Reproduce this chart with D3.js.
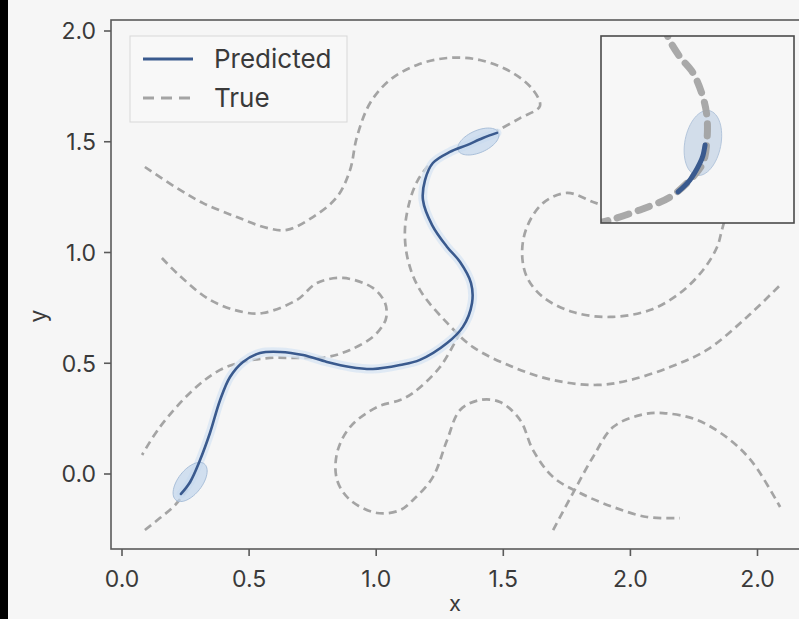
<!DOCTYPE html>
<html>
<head>
<meta charset="utf-8">
<script src="https://cdn.jsdelivr.net/npm/d3@7/dist/d3.min.js"></script>
<style>
  html, body { margin: 0; padding: 0; background: #f6f6f6; }
  svg { display: block; font-family: Inter, "Noto Sans", sans-serif; }
</style>
</head>
<body>
<svg id="chart" width="799" height="619"></svg>
<script>
// ---------- data ----------
const xTickValues = [0, 0.5, 1.0, 1.5, 2.0, 2.5];
const xTickLabels = ["0.0", "0.5", "1.0", "1.5", "2.0", "2.0"];
const yTickValues = [0, 0.5, 1.0, 1.5, 2.0];
const yTickLabels = ["0.0", "0.5", "1.0", "1.5", "2.0"];
const legendLabels = ["Predicted", "True"];

const predicted = [
  [0.232,-0.090],[0.268,-0.036],[0.307,0.063],[0.346,0.185],[0.386,0.334],
  [0.425,0.438],[0.476,0.506],[0.543,0.546],[0.622,0.551],[0.712,0.537],
  [0.806,0.506],[0.897,0.483],[0.987,0.474],[1.094,0.492],[1.172,0.515],
  [1.279,0.591],[1.341,0.664],[1.377,0.772],[1.373,0.862],[1.330,0.957],
  [1.279,1.025],[1.220,1.124],[1.184,1.237],[1.192,1.327],[1.223,1.404],
  [1.290,1.454],[1.357,1.485],[1.420,1.517],[1.475,1.540]
];

const trueA = [[0.090,-0.253],[0.149,-0.199],[0.209,-0.140],[0.268,-0.045],[0.275,-0.018]];
const trueB = [
  [0.157,0.975],[0.216,0.907],[0.346,0.786],[0.476,0.731],[0.555,0.727],
  [0.688,0.786],[0.767,0.862],[0.869,0.885],[0.987,0.840],[1.035,0.772],
  [1.040,0.709],[1.027,0.673],[0.987,0.619],[0.897,0.560],[0.806,0.528],
  [0.688,0.524],[0.582,0.524],[0.476,0.506],[0.386,0.470],[0.279,0.379],
  [0.149,0.212],[0.079,0.086]
];
const trueC = [
  [0.090,1.386],[0.216,1.291],[0.319,1.223],[0.452,1.160],[0.570,1.111],
  [0.649,1.102],[0.751,1.160],[0.846,1.251],[0.897,1.372],[0.924,1.521],
  [0.976,1.675],[1.054,1.779],[1.161,1.847],[1.279,1.878],[1.408,1.869],
  [1.538,1.810],[1.617,1.734],[1.644,1.661],[1.566,1.607],[1.475,1.549]
];
const trueD = [
  [1.204,1.391],[1.164,1.327],[1.133,1.237],[1.113,1.102],[1.125,0.966],
  [1.172,0.831],[1.279,0.682],[1.381,0.573],[1.538,0.483],[1.696,0.424],
  [1.869,0.402],[1.998,0.424],[2.156,0.483],[2.301,0.560],[2.459,0.709],
  [2.589,0.853]
];
const trueE = [
  [1.920,1.201],[1.853,1.228],[1.751,1.269],[1.656,1.223],[1.593,1.115],
  [1.574,0.998],[1.593,0.889],[1.656,0.799],[1.774,0.731],[1.920,0.709],
  [2.077,0.740],[2.195,0.817],[2.286,0.921],[2.341,1.025],[2.360,1.102],
  [2.376,1.169]
];
const trueG = [
  [1.330,0.640],[1.251,0.483],[1.145,0.366],[1.094,0.334],[1.003,0.302],
  [0.897,0.212],[0.846,0.095],[0.846,-0.027],[0.897,-0.117],[1.003,-0.176],
  [1.094,-0.163],[1.145,-0.117],[1.223,-0.014],[1.279,0.154],[1.330,0.289],
  [1.408,0.334],[1.487,0.325],[1.566,0.244],[1.617,0.108],[1.696,-0.014],
  [1.802,-0.086],[1.932,-0.149],[2.065,-0.194],[2.195,-0.199]
];
const trueH = [
  [1.696,-0.253],[1.774,-0.086],[1.853,0.077],[1.932,0.212],[2.038,0.266],
  [2.128,0.275],[2.262,0.244],[2.392,0.154],[2.482,0.050],[2.589,-0.149]
];
const trueSeries = [trueA, trueB, trueC, trueD, trueE, trueG, trueH];

// uncertainty ellipses: centre, major-axis vector, minor-axis vector (data units)
const ellipses = [
  {cx: 0.268, cy: -0.036, ax: 0.0557, ay: 0.0818, bx: -0.0372, by: 0.0334},
  {cx: 1.402, cy: 1.501, ax: 0.0791, ay: 0.0404, bx: -0.0176, by: 0.0454}
];

// inset (zoomed view, unit coordinates)
const insetTrue = [
  [0.330,1.060],[0.347,0.995],[0.409,0.888],[0.477,0.802],[0.528,0.674],
  [0.549,0.567],[0.549,0.444],[0.528,0.321],[0.461,0.230],[0.358,0.139],
  [0.202,0.070],[0.047,0.016],[-0.050,-0.010]
];
const insetPred = [[0.539,0.417],[0.528,0.360],[0.513,0.321],[0.461,0.230],[0.399,0.166]];
const insetEllipse = {cx: 0.528, cy: 0.428, ax: 0.0325, ay: 0.173, bx: 0.0917, by: -0.0183};

// ---------- drawing ----------
const svg = d3.select("#chart");
const W = 799, H = 619;
const frame = {left: 111, top: 20, right: 806, bottom: 549};

const x = d3.scaleLinear().domain([0, 2.5]).range([122, 757.5]);
const y = d3.scaleLinear().domain([0, 2]).range([474, 31]);

svg.append("rect").attr("width", W).attr("height", H).attr("fill", "#f6f6f6");
svg.append("rect").attr("x", 0).attr("y", 0).attr("width", 8).attr("height", H).attr("fill", "#000");

svg.append("defs").append("clipPath").attr("id", "plotclip")
  .append("rect").attr("x", frame.left).attr("y", frame.top)
  .attr("width", frame.right - frame.left).attr("height", frame.bottom - frame.top);

const plot = svg.append("g").attr("clip-path", "url(#plotclip)");

const line = d3.line().x(d => x(d[0])).y(d => y(d[1])).curve(d3.curveCatmullRom.alpha(0.5));

function ellipsePts(e) {
  const pts = [];
  for (let i = 0; i <= 64; i++) {
    const t = i / 64 * 2 * Math.PI;
    pts.push([e.cx + Math.cos(t) * e.ax + Math.sin(t) * e.bx,
              e.cy + Math.cos(t) * e.ay + Math.sin(t) * e.by]);
  }
  return pts;
}

// true trajectories
plot.selectAll("path.true").data(trueSeries).join("path")
  .attr("class", "true")
  .attr("d", line)
  .attr("fill", "none")
  .attr("stroke", "#a4a4a4")
  .attr("stroke-width", 2.7)
  .attr("stroke-dasharray", "8,5");

// predicted halo
plot.append("path").datum(predicted).attr("d", line)
  .attr("fill", "none").attr("stroke", "#d5e4f4").attr("stroke-width", 9)
  .attr("stroke-linecap", "round").attr("opacity", 0.7);

// ellipses
const ellLine = d3.line().x(d => x(d[0])).y(d => y(d[1]));
plot.selectAll("path.ell").data(ellipses).join("path")
  .attr("class", "ell")
  .attr("d", e => ellLine(ellipsePts(e)) + "Z")
  .attr("fill", "#c2d6ec").attr("fill-opacity", 0.7)
  .attr("stroke", "#a9bfd9").attr("stroke-width", 1);

// predicted line
plot.append("path").datum(predicted).attr("d", line)
  .attr("fill", "none").attr("stroke", "#3a5a8e").attr("stroke-width", 2.6)
  .attr("stroke-linecap", "round");

// frame
svg.append("rect").attr("x", frame.left).attr("y", frame.top)
  .attr("width", frame.right - frame.left).attr("height", frame.bottom - frame.top)
  .attr("fill", "none").attr("stroke", "#5a5a5a").attr("stroke-width", 1.6);

// y axis
const yAxis = svg.append("g");
yTickValues.forEach((v, i) => {
  yAxis.append("line").attr("x1", frame.left - 7).attr("x2", frame.left)
    .attr("y1", y(v)).attr("y2", y(v)).attr("stroke", "#5a5a5a").attr("stroke-width", 1.6);
  yAxis.append("text").attr("x", 96).attr("y", y(v)).attr("dy", "0.36em")
    .attr("text-anchor", "end").attr("font-size", 23).attr("fill", "#3a3a3a")
    .text(yTickLabels[i]);
});
// x axis
const xAxis = svg.append("g");
xTickValues.forEach((v, i) => {
  xAxis.append("line").attr("x1", x(v)).attr("x2", x(v))
    .attr("y1", frame.bottom).attr("y2", frame.bottom + 7).attr("stroke", "#5a5a5a").attr("stroke-width", 1.6);
  xAxis.append("text").attr("x", x(v)).attr("y", 587)
    .attr("text-anchor", "middle").attr("font-size", 23).attr("fill", "#3a3a3a")
    .text(xTickLabels[i]);
});
svg.append("text").attr("x", 455).attr("y", 611).attr("text-anchor", "middle")
  .attr("font-size", 22).attr("fill", "#3a3a3a").text("x");
svg.append("text").attr("transform", "translate(46,316) rotate(-90)")
  .attr("text-anchor", "middle").attr("font-size", 23).attr("fill", "#3a3a3a").text("y");

// legend
const lg = svg.append("g");
lg.append("rect").attr("x", 130).attr("y", 36).attr("width", 217).attr("height", 86)
  .attr("fill", "#f8f8f8").attr("stroke", "#d8d8d8").attr("stroke-width", 1);
lg.append("line").attr("x1", 143).attr("x2", 193).attr("y1", 59).attr("y2", 59)
  .attr("stroke", "#3a5a8e").attr("stroke-width", 3);
lg.append("line").attr("x1", 143).attr("x2", 193).attr("y1", 98).attr("y2", 98)
  .attr("stroke", "#a4a4a4").attr("stroke-width", 3).attr("stroke-dasharray", "11,7");
lg.append("text").attr("x", 214).attr("y", 59).attr("dy", "0.36em")
  .attr("font-size", 26).attr("fill", "#3a3a3a").text(legendLabels[0]);
lg.append("text").attr("x", 214).attr("y", 98).attr("dy", "0.36em")
  .attr("font-size", 26).attr("fill", "#3a3a3a").text(legendLabels[1]);

// inset
const inset = {left: 601, top: 36, right: 794, bottom: 223};
const ix = d3.scaleLinear().domain([0, 1]).range([inset.left, inset.right]);
const iy = d3.scaleLinear().domain([0, 1]).range([inset.bottom, inset.top]);
svg.select("defs").append("clipPath").attr("id", "insetclip")
  .append("rect").attr("x", inset.left).attr("y", inset.top)
  .attr("width", inset.right - inset.left).attr("height", inset.bottom - inset.top);
svg.append("rect").attr("x", inset.left).attr("y", inset.top)
  .attr("width", inset.right - inset.left).attr("height", inset.bottom - inset.top)
  .attr("fill", "#f7f7f7");
const ig = svg.append("g").attr("clip-path", "url(#insetclip)");
const iline = d3.line().x(d => ix(d[0])).y(d => iy(d[1])).curve(d3.curveCatmullRom.alpha(0.5));
const iell = d3.line().x(d => ix(d[0])).y(d => iy(d[1]));
ig.append("path").datum(ellipsePts(insetEllipse)).attr("d", d => iell(d) + "Z")
  .attr("fill", "#cdd9e8").attr("fill-opacity", 0.9).attr("stroke", "#b4c6dc").attr("stroke-width", 1);
ig.append("path").datum(insetTrue).attr("d", iline)
  .attr("fill", "none").attr("stroke", "#a0a0a0").attr("stroke-width", 7)
  .attr("stroke-dasharray", "12,10").attr("stroke-linecap", "round").attr("opacity", 0.9);
ig.append("path").datum(insetPred).attr("d", iline)
  .attr("fill", "none").attr("stroke", "#3a5a8e").attr("stroke-width", 5)
  .attr("stroke-linecap", "round");
svg.append("rect").attr("x", inset.left).attr("y", inset.top)
  .attr("width", inset.right - inset.left).attr("height", inset.bottom - inset.top)
  .attr("fill", "none").attr("stroke", "#4a4a4a").attr("stroke-width", 1.6);
</script>
</body>
</html>
